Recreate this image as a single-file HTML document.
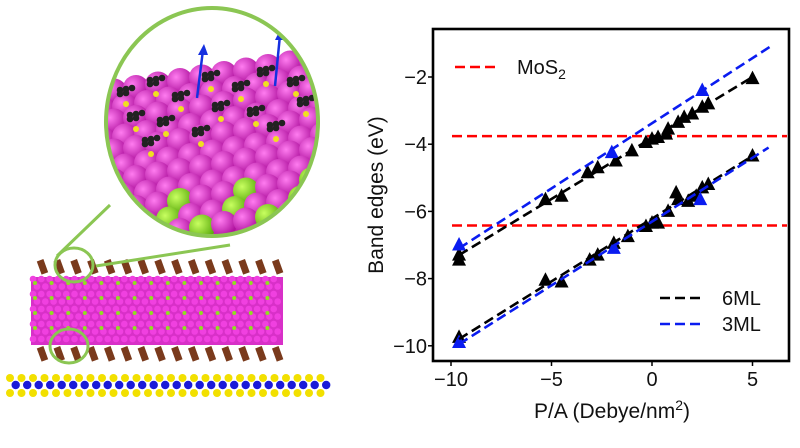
<!DOCTYPE html>
<html><head><meta charset="utf-8"><style>
body{margin:0;background:#fff;width:800px;height:443px;overflow:hidden;font-family:"Liberation Sans",sans-serif}
</style></head><body>
<svg id="s" width="800" height="443" viewBox="0 0 800 443">
<defs>
<radialGradient id="mg" cx="35%" cy="35%" r="65%"><stop offset="0" stop-color="#ff7cf0"/><stop offset="1" stop-color="#b0139f"/></radialGradient>
<radialGradient id="gg" cx="35%" cy="35%" r="65%"><stop offset="0" stop-color="#c8ff60"/><stop offset="1" stop-color="#5fae10"/></radialGradient>
<clipPath id="cc"><ellipse cx="212" cy="122" rx="106" ry="114"/></clipPath>
</defs>
<g id="illus"></g>
<g id="chart"></g>
</svg>
<script>
// ---- chart data ----
const mos2Levels=[-3.76,-6.42];
const upper6X=[-9.6,-9.6,-5.3,-4.5,-3.2,-2.7,-1.8,-1,-0.3,0,0.3,0.7,0.8,1.3,1.6,2,2.5,2.8,5];
const upper6Y=[-7.3,-7.45,-5.65,-5.55,-4.85,-4.7,-4.5,-4.2,-3.95,-3.85,-3.8,-3.7,-3.55,-3.35,-3.2,-3.1,-2.9,-2.8,-2.05];
const upper3X=[-9.6,-2,2.5];
const upper3Y=[-7.0,-4.25,-2.4];
const lower6X=[-9.6,-5.3,-4.5,-3.1,-2.7,-1.9,-1.2,-0.3,0,0.3,0.8,1.2,1.3,1.8,2.2,2.5,2.8,5];
const lower6Y=[-9.75,-8.05,-8.1,-7.45,-7.3,-6.95,-6.75,-6.45,-6.35,-6.35,-6.0,-5.45,-5.65,-5.7,-5.55,-5.3,-5.2,-4.35];
const lower3X=[-9.6,-1.9,2.4];
const lower3Y=[-9.9,-7.1,-5.65];
const fit6Upper=[[-9.6,-7.3],[5,-2.0]];
const fit3Upper=[[-9.6,-7.1],[6.0,-1.05]];
const fit6Lower=[[-9.6,-9.8],[5,-4.35]];
const fit3Lower=[[-9.6,-9.95],[5.8,-4.1]];
const xTicks=[-10,-5,0,5];
const yTicks=[-2,-4,-6,-8,-10];

const NS="http://www.w3.org/2000/svg";
function mk(t,a,p){const e=document.createElementNS(NS,t);for(const k in a)e.setAttribute(k,a[k]);p.appendChild(e);return e;}
const C=document.getElementById('chart');
const L=433,R=789,T=29,B=361;
const sx=v=>652+v*20.1;
const sy=v=>77+(-2-v)*33.6;

mos2Levels.forEach((v,i)=>{const l=mk('line',{x1:452,x2:787,y1:sy(v),y2:sy(v),stroke:'#f00','stroke-width':2.6,'stroke-dasharray':'10,5'},C);

});
function fit(f,col,name){const l=mk('line',{x1:sx(f[0][0]),y1:sy(f[0][1]),x2:sx(f[1][0]),y2:sy(f[1][1]),stroke:col,'stroke-width':2.6,'stroke-dasharray':'10,5'},C);

}
function pts(xs,ys,col,name){xs.forEach((x,i)=>{const cx=sx(x),cy=sy(ys[i]);const p=mk('polygon',{points:`${cx},${cy-8} ${cx-7},${cy+5.5} ${cx+7},${cy+5.5}`,fill:col},C);

});}
pts(upper6X,upper6Y,'#000','point-6ml-upper');
pts(lower6X,lower6Y,'#000','point-6ml-lower');
pts(upper3X,upper3Y,'#0a1cf0','point-3ml-upper');
pts(lower3X,lower3Y,'#0a1cf0','point-3ml-lower');
fit(fit6Upper,'#000','fit-6ml-upper');fit(fit6Lower,'#000','fit-6ml-lower');
fit(fit3Upper,'#0a1cf0','fit-3ml-upper');fit(fit3Lower,'#0a1cf0','fit-3ml-lower');
const fr=mk('rect',{x:L,y:T,width:R-L,height:B-T,fill:'none',stroke:'#000','stroke-width':2.6},C);


xTicks.forEach(v=>{mk('line',{x1:sx(v),x2:sx(v),y1:B,y2:B+5,stroke:'#000','stroke-width':1.5},C);
const t=mk('text',{x:sx(v),y:B+25,'text-anchor':'middle','font-size':20,fill:'#111'},C);t.textContent=v<0?'\u2212'+(-v):v;

});
yTicks.forEach(v=>{mk('line',{x1:L,x2:L-5,y1:sy(v),y2:sy(v),stroke:'#000','stroke-width':1.5},C);
const t=mk('text',{x:L-6,y:sy(v)+7,'text-anchor':'end','font-size':20,fill:'#111'},C);t.textContent='\u2212'+(-v);

});
let t=mk('text',{x:612,y:418,'text-anchor':'middle','font-size':21,fill:'#111'},C);
t.innerHTML='P/A (Debye/nm<tspan dy="-8" font-size="14">2</tspan><tspan dy="8">)</tspan>';


t=mk('text',{x:383,y:195,'text-anchor':'middle','font-size':21,fill:'#111',transform:'rotate(-90 383 195)'},C);
t.textContent='Band edges (eV)';


function leg(x,y,col,txt,name){mk('line',{x1:x,x2:x+44,y1:y,y2:y,stroke:col,'stroke-width':2.6,'stroke-dasharray':'10,5'},C);
const tt=mk('text',{x:x+62,y:y+7,'font-size':20,fill:'#111'},C);tt.innerHTML=txt;

}
leg(455,67,'#f00','MoS<tspan dy="5" font-size="14">2</tspan>','legend-mos2');
leg(660,298,'#000','6ML','legend-6ml');
leg(660,324,'#0a1cf0','3ML','legend-3ml');

// ---- illustration ----
const I=document.getElementById('illus');
for(let x=10;x<=322;x+=11.5){mk('circle',{cx:x,cy:378,r:4,fill:'#f2e000'},I);mk('circle',{cx:x,cy:393,r:4,fill:'#f2e000'},I);mk('circle',{cx:x+5.7,cy:385,r:4.2,fill:'#1a1ad8'},I);}
mk('rect',{x:31,y:277,width:252,height:68,fill:'#d830c8'},I);
for(let y=279;y<=343;y+=7.5)for(let x=33;x<=281;x+=8.3){mk('circle',{cx:x+((Math.round((y-279)/7.5))%2)*4,cy:y,r:3.3,fill:'#f040e0'},I);}
for(let y=283;y<=340;y+=15)for(let x=35;x<=281;x+=16.6)mk('circle',{cx:x,cy:y,r:2,fill:'#8fe020'},I);
for(let x=42;x<=280;x+=16.8){mk('rect',{x:x-3,y:260,width:7,height:14,fill:'#7a3a1c',transform:`rotate(-20 ${x} 267)`},I);mk('rect',{x:x-3,y:347,width:7,height:14,fill:'#7a3a1c',transform:`rotate(-20 ${x} 354)`},I);}
mk('line',{x1:57,y1:256,x2:110,y2:205,stroke:'#8bc653','stroke-width':3},I);
mk('line',{x1:96,y1:266,x2:230,y2:245,stroke:'#8bc653','stroke-width':3},I);
mk('ellipse',{cx:74,cy:265,rx:19,ry:17,fill:'none',stroke:'#8bc653','stroke-width':3},I);
mk('ellipse',{cx:69,cy:346,rx:19,ry:17,fill:'none',stroke:'#8bc653','stroke-width':3},I);
const g=mk('g',{'clip-path':'url(#cc)'},I);
mk('rect',{x:100,y:0,width:230,height:250,fill:'#fff'},g);
mk('polygon',{points:'100,95 330,55 330,250 100,250',fill:'#c21fb0'},g);
for(let r=0;r<11;r++)for(let c=0;c<12;c++){const x=92+c*22+(r%2)*11,y=95+r*15-c*3.5;
mk('circle',{cx:x,cy:y,r:13,fill:(r>=8&&(c+r)%3==0)?'url(#gg)':'url(#mg)'},g);}
const mx=[120,150,175,205,235,260,290,130,160,215,250,300,145,195,270];
const my=[90,80,95,75,85,70,80,115,120,105,110,100,140,130,125];
for(let k=0;k<mx.length;k++){for(let j=0;j<5;j++)mk('circle',{cx:mx[k]+(j%3)*6,cy:my[k]+Math.floor(j/3)*7-j,r:3.3,fill:'#222'},g);mk('circle',{cx:mx[k]+6,cy:my[k]+14,r:3,fill:'#f0e020'},g);}
mk('line',{x1:197,y1:98,x2:203,y2:50,stroke:'#1530e0','stroke-width':2.5},g);
mk('polygon',{points:'204,44 198,55 208,55',fill:'#1530e0'},g);
mk('line',{x1:275,y1:86,x2:280,y2:35,stroke:'#1530e0','stroke-width':2.5},g);
mk('polygon',{points:'281,28 275,40 286,40',fill:'#1530e0'},g);
mk('ellipse',{cx:212,cy:122,rx:106,ry:114,fill:'none',stroke:'#8bc653','stroke-width':4},I);
</script>
</body></html>
